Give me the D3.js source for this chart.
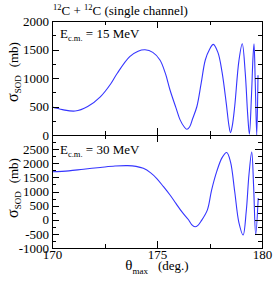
<!DOCTYPE html>
<html>
<head>
<meta charset="utf-8">
<script src="https://cdn.jsdelivr.net/npm/d3@7"></script>
<style>
  body { margin: 0; background: #fff; }
  text { font-family: "Liberation Serif", "Times New Roman", serif; fill: #000; }
</style>
</head>
<body>
<div id="chart"></div>
<script>
// 12C + 12C single channel, sigma_SOD vs theta_max
const theta15 = [170, 170.5, 171.1, 171.7, 172.3, 172.8, 173.1, 173.7, 174.1, 174.43, 174.8, 175.14, 175.4, 175.62, 175.9, 176.1, 176.3, 176.42, 176.55, 176.7, 176.9, 177.1, 177.3, 177.5, 177.68, 177.9, 178.1, 178.3, 178.42, 178.5, 178.58, 178.7, 178.9, 179.06, 179.2, 179.32, 179.4, 179.5, 179.57, 179.62, 179.68, 179.75, 179.81];
const sigma15 = [490, 445, 420, 500, 670, 900, 1080, 1375, 1470, 1495, 1450, 1316, 1080, 790, 480, 265, 140, 100, 140, 290, 500, 900, 1316, 1500, 1590, 1450, 1100, 550, 180, 40, 150, 500, 1300, 1600, 1100, 350, 15, 700, 1350, 1600, 900, 0, 1050];

const theta30 = [170, 170.8, 171.5, 172.3, 173.0, 173.6, 174.0, 174.35, 174.7, 174.98, 175.3, 175.62, 175.9, 176.18, 176.5, 176.65, 176.81, 176.95, 177.1, 177.4, 177.6, 177.85, 178.1, 178.32, 178.5, 178.7, 178.9, 179.1, 179.25, 179.38, 179.51, 179.6, 179.7, 179.82];
const sigma30 = [1700, 1730, 1790, 1850, 1900, 1915, 1890, 1820, 1660, 1467, 1180, 876, 580, 285, 0, -170, -250, -200, -50, 350, 1050, 1720, 2200, 2380, 2050, 1000, -100, -540, 300, 1600, 2400, 1200, -530, 770];

const xMajor = [170, 175, 180];
const xMinor = [172.5, 177.5];
const yTopMajor = [0, 500, 1000, 1500, 2000];
const yTopMinor = [250, 750, 1250, 1750];
const yBotMajor = [-1000, -500, 0, 500, 1000, 1500, 2000, 2500];
const yBotMinor = [-750, -250, 250, 750, 1250, 1750, 2250, 2750];
const energies = ["15", "30"];

const W = 273, H = 281;
const left = 52, right = 262;
const svg = d3.select("#chart").append("svg")
    .attr("width", W)
    .attr("height", H);

const x = d3.scaleLinear().domain([170, 180]).range([left, right]);
const yTop = d3.scaleLinear().domain([0, 2000]).range([135, 21]);
const yBot = d3.scaleLinear().domain([-1000, 3000]).range([248, 135]);

const panels = [
    {y: yTop, theta: theta15, sigma: sigma15, major: yTopMajor, minor: yTopMinor, energy: energies[0], labelY: 38, axisY: 72, xLabels: false},
    {y: yBot, theta: theta30, sigma: sigma30, major: yBotMajor, minor: yBotMinor, energy: energies[1], labelY: 154, axisY: 188, xLabels: true}
];

const line = d3.line().curve(d3.curveCatmullRom.alpha(0.5));

panels.forEach(p => {
    const [y0, y1] = p.y.range();
    const g = svg.append("g");

    // curve
    g.append("path")
        .datum(p.theta.map((t, i) => [x(t), p.y(p.sigma[i])]))
        .attr("fill", "none")
        .attr("stroke", "#3535ff")
        .attr("stroke-width", 1.1)
        .attr("d", line);

    const axes = g.append("g").attr("shape-rendering", "crispEdges");

    axes.append("g").attr("transform", `translate(${left},0)`)
        .call(d3.axisLeft(p.y).tickValues(p.major).tickSize(-7).tickPadding(3).tickFormat(d => String(d)));
    axes.append("g").attr("transform", `translate(${left},0)`)
        .call(d3.axisLeft(p.y).tickValues(p.minor).tickSize(-4).tickFormat(""));
    axes.append("g").attr("transform", `translate(${right},0)`)
        .call(d3.axisRight(p.y).tickValues(p.major).tickSize(-7).tickFormat(""));
    axes.append("g").attr("transform", `translate(${right},0)`)
        .call(d3.axisRight(p.y).tickValues(p.minor).tickSize(-4).tickFormat(""));
    axes.append("g").attr("transform", `translate(0,${y1})`)
        .call(d3.axisTop(x).tickValues(xMajor).tickSize(-7).tickFormat(""));
    axes.append("g").attr("transform", `translate(0,${y1})`)
        .call(d3.axisTop(x).tickValues(xMinor).tickSize(-4).tickFormat(""));
    axes.append("g").attr("transform", `translate(0,${y0})`)
        .call(d3.axisBottom(x).tickValues(xMajor).tickSize(-7).tickPadding(2).tickFormat(d => p.xLabels ? String(d) : ""));
    axes.append("g").attr("transform", `translate(0,${y0})`)
        .call(d3.axisBottom(x).tickValues(xMinor).tickSize(-4).tickFormat(""));

    axes.selectAll(".domain").remove();
    axes.selectAll(".tick line").attr("stroke", "#000");
    axes.selectAll(".tick text")
        .attr("font-family", "Liberation Serif")
        .attr("font-size", 13)
        .attr("fill", "#000");

    axes.append("rect")
        .attr("x", left).attr("y", y1)
        .attr("width", right - left).attr("height", y0 - y1)
        .attr("fill", "none")
        .attr("stroke", "#000");

    // energy label
    const lab = g.append("text").attr("x", 60).attr("y", p.labelY).attr("font-size", 13);
    lab.append("tspan").text("E");
    lab.append("tspan").attr("font-size", 8.5).attr("dy", 3).text("c.m.");
    lab.append("tspan").attr("dy", -3).text(` = ${p.energy} MeV`);

    // y axis label
    const yl = g.append("text")
        .attr("transform", `translate(18,${p.axisY}) rotate(-90)`)
        .attr("text-anchor", "middle")
        .attr("font-size", 13);
    yl.append("tspan").attr("font-size", 16).text("σ");
    yl.append("tspan").attr("font-size", 9).attr("dy", 3).text("SOD");
    yl.append("tspan").attr("dy", -3).attr("dx", 8).text("(mb)");
});

// title
const title = svg.append("text").attr("x", 53).attr("y", 15).attr("font-size", 13);
title.append("tspan").attr("font-size", 8.5).attr("dy", -5).text("12");
title.append("tspan").attr("dy", 5).text("C + ");
title.append("tspan").attr("font-size", 8.5).attr("dy", -5).text("12");
title.append("tspan").attr("dy", 5).text("C (single channel)");

// x axis label
const xl = svg.append("text").attr("x", 157).attr("y", 270).attr("text-anchor", "middle").attr("font-size", 13);
xl.append("tspan").attr("font-size", 15).text("θ");
xl.append("tspan").attr("font-size", 9).attr("dy", 4).text("max");
xl.append("tspan").attr("dy", -4).attr("dx", 10).text("(deg.)");
</script>
</body>
</html>
